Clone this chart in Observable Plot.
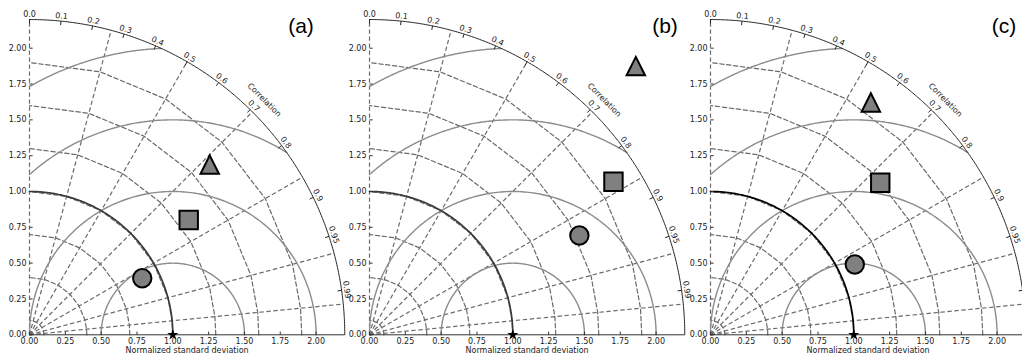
<!DOCTYPE html>
<html><head><meta charset="utf-8">
<script src="https://cdn.jsdelivr.net/npm/d3@7"></script>
<script src="https://cdn.jsdelivr.net/npm/@observablehq/plot@0.6"></script>
<style>
body{margin:0;background:#fff;}
#wrap{position:relative;width:1022px;height:359px;overflow:hidden;background:#fff;}
#wrap svg{position:absolute;top:0;overflow:visible;max-width:none;}
.plab{position:absolute;font-family:"Liberation Sans",Arial,sans-serif;font-size:21px;line-height:1;width:50px;text-align:center;color:#000;}
</style></head><body><div id="wrap"></div>
<script>
// ---- data ----
const panelLabels = ["(a)", "(b)", "(c)"];
const modelSymbols = ["circle", "square", "triangle"];
const stdA = [0.88, 1.37, 1.73];
const corrA = [0.894, 0.811, 0.727];
const stdB = [1.62, 2.01, 2.64];
const corrB = [0.904, 0.847, 0.704];
const stdC = [1.12, 1.59, 1.97];
const corrC = [0.899, 0.745, 0.568];
const refStd = 1.0;
const smax = 2.2;
const stdGridRadii = [0.1, 0.4, 0.7, 1.0, 1.3, 1.6, 1.9];
const radialGridAngles = [5.6, 15, 30, 45, 60, 75, 90];
const rmsRadii = [0.5, 1.0, 1.5, 2.0];
const stdTicks = [0, 0.25, 0.5, 0.75, 1.0, 1.25, 1.5, 1.75, 2.0];
const corrTicks = [0, 0.1, 0.2, 0.3, 0.4, 0.5, 0.6, 0.7, 0.8, 0.9, 0.95, 0.99];
const corrTickLabels = ["0.0","0.1","0.2","0.3","0.4","0.5","0.6","0.7","0.8","0.9","0.95","0.99"];
const xLabel = "Normalized standard deviation";
const corrLabel = "Correlation";

// ---- layout ----
const unit = 143.3, ML = 30, W = 375;
const MR = W - ML - smax * unit;
const yAxisPix = 334.3;
const MT = yAxisPix - smax * unit, H = 359, MB = H - yAxisPix;
const origins = [28.5, 369.3, 710.0];
const labelCenters = [[301, 14.8], [665, 14.8], [1004, 14.8]];
const refColors = ["#3a3a3a", "#3a3a3a", "#000"];

const rad = Math.PI / 180;
function arc(cx, cy, R, a0, a1, n, id) {
  const pts = [];
  for (let i = 0; i <= n; i++) {
    const a = a0 + (a1 - a0) * i / n;
    pts.push({x: cx + R * Math.cos(a), y: cy + R * Math.sin(a), id});
  }
  return pts;
}
// std grid circles sampled at the radial grid angles
const gridAngles = [0, ...radialGridAngles];
const gridCircles = stdGridRadii.flatMap(r => gridAngles.map(a => ({x: r * Math.cos(a * rad), y: r * Math.sin(a * rad), id: r})));
const radialLines = radialGridAngles.map(a => ({a}));
// RMS arcs centred on the reference point, clipped to the quadrant
const rmsArcs = rmsRadii.flatMap(R => {
  const c0 = Math.min(1, (smax * smax - refStd * refStd - R * R) / (2 * R * refStd));
  const c1 = Math.max(-1, -refStd / R);
  return arc(refStd, 0, R, Math.acos(c0), Math.acos(c1), 200, R);
});
const refArc = arc(0, 0, refStd, 0, Math.PI / 2, 200, "ref");
const outerArc = arc(0, 0, smax, 0, Math.PI / 2, 300, "outer");

const sqSym = {draw(ctx, size) { const r = Math.sqrt(size / Math.PI); ctx.moveTo(-r, -r); ctx.lineTo(r, -r); ctx.lineTo(r, r); ctx.lineTo(-r, r); ctx.closePath(); }};
const triSym = {draw(ctx, size) { const r = Math.sqrt(size / Math.PI); ctx.moveTo(0, -r); ctx.lineTo(r, r); ctx.lineTo(-r, r); ctx.closePath(); }};
const symMap = {circle: "circle", square: sqSym, triangle: triSym};

const panelData = [[stdA, corrA], [stdB, corrB], [stdC, corrC]];
const wrap = document.getElementById("wrap");

panelData.forEach(([stds, corrs], p) => {
  const models = modelSymbols.map((s, i) => ({sym: s, x: stds[i] * corrs[i], y: stds[i] * Math.sqrt(1 - corrs[i] * corrs[i])}));
  const dotMarks = modelSymbols.map(s => Plot.dot(models.filter(d => d.sym === s), {
    x: "x", y: "y", r: 9.2, symbol: symMap[s], fill: "#808080", stroke: "#000", strokeWidth: 2
  }));
  const lab = r => corrTicks.map((c, i) => ({c, t: corrTickLabels[i], r}));
  const chart = Plot.plot({
    width: W, height: H,
    marginLeft: ML, marginRight: MR, marginTop: MT, marginBottom: MB,
    x: {domain: [0, smax]}, y: {domain: [0, smax]},
    style: {fontFamily: "DejaVu Sans", fontSize: "8px", background: "transparent", overflow: "visible"},
    marks: [
      Plot.line(gridCircles, {x: "x", y: "y", z: "id", stroke: "#6a6a6a", strokeWidth: 1.2, strokeDasharray: "4.4,2.6"}),
      Plot.link(radialLines, {x1: 0, y1: 0, x2: d => smax * Math.cos(d.a * rad), y2: d => smax * Math.sin(d.a * rad), stroke: "#6a6a6a", strokeWidth: 1.2, strokeDasharray: "4.4,2.6"}),
      Plot.line(rmsArcs, {x: "x", y: "y", z: "id", stroke: "#8c8c8c", strokeWidth: 1.4}),
      Plot.line(refArc, {x: "x", y: "y", stroke: refColors[p], strokeWidth: 1.7}),
      Plot.line(outerArc, {x: "x", y: "y", stroke: "#222", strokeWidth: 1}),
      Plot.ruleY([0], {x1: 0, x2: smax, stroke: "#333", strokeWidth: 1}),
      Plot.link(stdTicks, {x1: d => d, x2: d => d, y1: 0, y2: 0.022, stroke: "#333"}),
      Plot.link(stdTicks, {y1: d => d, y2: d => d, x1: 0, x2: 0.022, stroke: "#333"}),
      Plot.link(corrTicks, {
        x1: c => smax * c, y1: c => smax * Math.sqrt(1 - c * c),
        x2: c => (smax - 0.028) * c, y2: c => (smax - 0.028) * Math.sqrt(1 - c * c), stroke: "#222"
      }),
      Plot.text(lab(smax + 0.036), {
        x: d => d.r * d.c, y: d => d.r * Math.sqrt(1 - d.c * d.c), text: "t",
        rotate: d => 90 - Math.acos(d.c) / rad, fontSize: 8, fill: "#222"
      }),
      Plot.text([corrLabel], {
        x: () => (smax + 0.118) * Math.cos(45 * rad), y: () => (smax + 0.118) * Math.sin(45 * rad),
        text: d => d, rotate: 45, fontSize: 8, fill: "#222"
      }),
      Plot.axisX({ticks: stdTicks, tickFormat: d3.format(".2f"), tickSize: 0, tickPadding: 4, fontSize: 8, color: "#222", label: null}),
      Plot.axisY({ticks: stdTicks, tickFormat: d3.format(".2f"), tickSize: 0, tickPadding: 3, fontSize: 8, color: "#222", label: null}),
      Plot.text([xLabel], {x: smax / 2, frameAnchor: "bottom", dy: 18, text: d => d, fontSize: 8, fill: "#222"}),
      ...dotMarks,
      Plot.dot([refStd], {x: d => d, y: 0, symbol: "star", r: 3.5, fill: "#000", stroke: "none"})
    ]
  });
  chart.style.left = (origins[p] - ML) + "px";
  wrap.appendChild(chart);
  const d = document.createElement("div");
  d.className = "plab";
  d.textContent = panelLabels[p];
  d.style.left = (labelCenters[p][0] - 25) + "px";
  d.style.top = labelCenters[p][1] + "px";
  wrap.appendChild(d);
});
</script></body></html>
